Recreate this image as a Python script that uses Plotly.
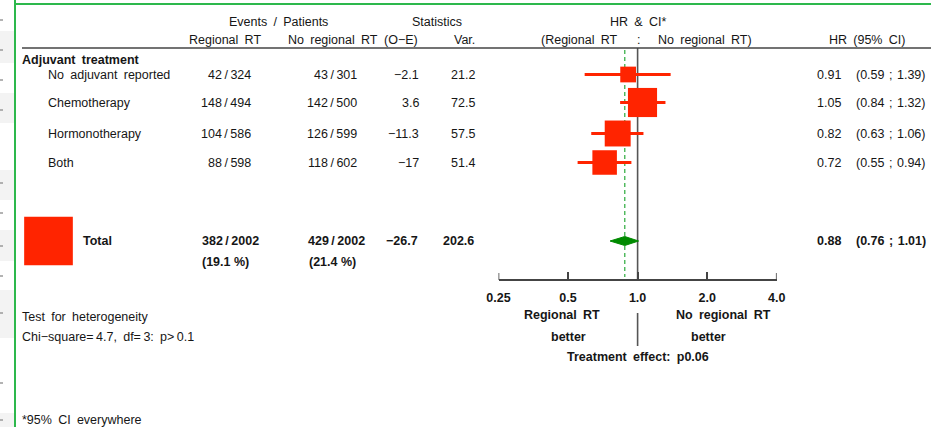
import math
import plotly.graph_objects as go

# ---------------- data ----------------
subgroups = ["No adjuvant reported", "Chemotherapy", "Hormonotherapy", "Both"]
reg_events = [42, 148, 104, 88]
reg_patients = [324, 494, 586, 598]
noreg_events = [43, 142, 126, 118]
noreg_patients = [301, 500, 599, 602]
o_minus_e = [-2.1, 3.6, -11.3, -17]
variance = [21.2, 72.5, 57.5, 51.4]
hr = [0.91, 1.05, 0.82, 0.72]
hr_lo = [0.59, 0.84, 0.63, 0.55]
hr_hi = [1.39, 1.32, 1.06, 0.94]

total_reg_events, total_reg_patients = 382, 2002
total_noreg_events, total_noreg_patients = 429, 2002
total_reg_pct, total_noreg_pct = 19.1, 21.4
total_o_minus_e = -26.7
total_variance = 202.6
total_hr, total_lo, total_hi = 0.88, 0.76, 1.01

tick_vals = [0.25, 0.5, 1.0, 2.0, 4.0]
tick_text = ["0.25", "0.5", "1.0", "2.0", "4.0"]

# ---------------- layout helpers ----------------
W, H = 931, 427
row_y = [74.5, 102.5, 133.5, 162.5]
total_y = 241
axis_y = 280
header_line_y = 48
RED = "#FF2400"
GREEN = "#008A00"
GREY = "#555555"
FONT = "Liberation Sans, Arial, sans-serif"
TXT = "#161616"
FS = 12.5
size_k = 3.42
SP = "\u2002"   # wide word space
TH = "\u2009"   # thin space
PAD = 2.5       # annotation inner padding compensation


def fmt(v):
    s = f"{v:g}"
    return s.replace("-", "\u2212")


def w(s):
    return s.replace(" ", SP)


fig = go.Figure()

# vertical reference lines
fig.add_trace(go.Scatter(x=[1, 1], y=[header_line_y, axis_y], mode="lines",
                         line=dict(color=GREY, width=1.6), hoverinfo="skip", showlegend=False))
fig.add_trace(go.Scatter(x=[total_hr, total_hr], y=[header_line_y + 2, axis_y - 3], mode="lines",
                         line=dict(color="#3BB04A", width=1.3, dash="4px,3px"),
                         hoverinfo="skip", showlegend=False))
fig.add_trace(go.Scatter(x=[1, 1], y=[313, 346], mode="lines",
                         line=dict(color=GREY, width=1.6), hoverinfo="skip", showlegend=False))
# end ticks of the HR axis
end_x, end_y = [], []
for t in (tick_vals[0], tick_vals[-1]):
    end_x += [t, t, None]
    end_y += [axis_y - 7, axis_y, None]
fig.add_trace(go.Scatter(x=end_x, y=end_y, mode="lines", line=dict(color="#444444", width=1.6),
                         hoverinfo="skip", showlegend=False, cliponaxis=False))

# CIs
for i in range(len(subgroups)):
    fig.add_trace(go.Scatter(x=[hr_lo[i], hr_hi[i]], y=[row_y[i], row_y[i]], mode="lines",
                             line=dict(color=RED, width=3), hoverinfo="skip", showlegend=False))
# squares
fig.add_trace(go.Scatter(x=hr, y=row_y, mode="markers",
                         marker=dict(symbol="square", color=RED, opacity=1,
                                     size=[size_k * math.sqrt(v) for v in variance],
                                     line=dict(width=0)),
                         hoverinfo="skip", showlegend=False))
# total diamond
dh = 4.5
fig.add_trace(go.Scatter(x=[total_lo, total_hr, total_hi, total_hr, total_lo],
                         y=[total_y, total_y - dh, total_y, total_y + dh, total_y],
                         mode="lines", fill="toself", fillcolor=GREEN,
                         line=dict(color=GREEN, width=1), hoverinfo="skip", showlegend=False))
# total square (legend-like, left table)
fig.add_trace(go.Scatter(x=[48.5], y=[total_y], xaxis="x2", yaxis="y", mode="markers",
                         marker=dict(symbol="square", color=RED, opacity=1,
                                     size=size_k * math.sqrt(total_variance), line=dict(width=0)),
                         hoverinfo="skip", showlegend=False, cliponaxis=False))

ann = []


def add(text, x, y, anchor="left", bold=False, size=FS):
    if bold:
        text = f"<b>{text}</b>"
    if anchor == "left":
        x -= PAD
    elif anchor == "right":
        x += PAD
    ann.append(dict(text=text, x=x / W, y=y, xref="paper", yref="y", xanchor=anchor, yanchor="middle",
                    showarrow=False, font=dict(family=FONT, size=size, color=TXT)))


def frac(a, b):
    return f"{a}{TH}/{TH}{b}"


def ci(lo, hi):
    return f"({lo:.2f} \u200a;\u200a {hi:.2f})"


# headers
add(w("Events / Patients"), 278, 22, "center")
add("Statistics", 437, 22, "center")
add(w("Regional RT"), 260, 40, "right")
add(w("No regional RT"), 377, 40, "right")
add("(O\u2212E)", 417, 40, "right")
add("Var.", 474, 40, "right")
add(w("HR & CI*"), 638, 22, "center")
add(w("(Regional RT"), 617, 40, "right")
add(":", 638, 40, "center")
add(w("No regional RT)"), 658, 40, "left")
add(w("HR (95% CI)"), 904.5, 40, "right")

add(w("Adjuvant treatment"), 22.5, 60, "left", bold=True)
for i, name in enumerate(subgroups):
    y = row_y[i]
    add(w(name), 48.5, y, "left")
    add(frac(reg_events[i], reg_patients[i]), 250, y, "right")
    add(frac(noreg_events[i], noreg_patients[i]), 356, y, "right")
    add(fmt(o_minus_e[i]), 418, y, "right")
    add(fmt(variance[i]), 474, y, "right")
    add(f"{hr[i]:.2f}", 817, y, "left")
    add(ci(hr_lo[i], hr_hi[i]), 925, y, "right")

add("Total", 83, total_y, "left", bold=True)
add(frac(total_reg_events, total_reg_patients), 258, total_y, "right", bold=True)
add(frac(total_noreg_events, total_noreg_patients), 364, total_y, "right", bold=True)
add(fmt(total_o_minus_e), 417, total_y, "right", bold=True)
add(fmt(total_variance), 473, total_y, "right", bold=True)
add(f"({total_reg_pct} %)", 248, 262, "right", bold=True)
add(f"({total_noreg_pct} %)", 355, 262, "right", bold=True)
add(f"{total_hr:.2f}", 817, total_y, "left", bold=True)
add(ci(total_lo, total_hi), 925, total_y, "right", bold=True)

add(w("Test for heterogeneity"), 22.5, 316.5, "left")
add("Chi\u2212square=\u20094.7,\u2002df=\u20093:\u2002p>\u20090.1", 22.5, 336.5, "left")
add(w("*95% CI everywhere"), 22.5, 420, "left")

add(w("Regional RT"), 561.5, 315, "center", bold=True)
add("better", 568.5, 336.5, "center", bold=True)
add(w("No regional RT"), 723.5, 315, "center", bold=True)
add("better", 708, 336.5, "center", bold=True)
add(w("Treatment effect: p0.06"), 638, 357, "center", bold=True)

shapes = [
    # left page strip bands
    *[dict(type="rect", xref="paper", yref="paper", x0=0, x1=14 / W,
           y0=1 - b / H, y1=1 - a / H, fillcolor="#F3F3F3", line=dict(width=0), layer="below")
      for a, b in [(31, 63), (93, 123), (170, 200), (230, 261), (290, 338), (413, 427)]],
    *[dict(type="line", xref="paper", yref="paper", x0=0, x1=3 / W,
           y0=1 - t / H, y1=1 - t / H, line=dict(color="#9A9A9A", width=1.5))
      for t in [20, 50, 80, 110, 183, 213, 246, 276, 313, 383, 420]],
    # green frame
    dict(type="line", xref="paper", yref="paper", x0=15 / W, x1=15 / W, y0=0, y1=1,
         line=dict(color="#2DB84C", width=2)),
    dict(type="line", xref="paper", yref="paper", x0=15 / W, x1=1, y0=1 - 4 / H, y1=1 - 4 / H,
         line=dict(color="#2DB84C", width=2)),
    # header rule
    dict(type="line", xref="paper", yref="y", x0=22 / W, x1=1, y0=header_line_y, y1=header_line_y,
         line=dict(color="#444444", width=1.5)),
]

x0_px, x1_px = 498.5, 776.7
fig.update_layout(
    width=W, height=H,
    margin=dict(l=0, r=0, t=0, b=0, pad=0, autoexpand=False),
    paper_bgcolor="white", plot_bgcolor="rgba(0,0,0,0)",
    showlegend=False,
    annotations=ann,
    shapes=shapes,
    xaxis=dict(type="log", domain=[x0_px / W, x1_px / W],
               range=[math.log10(0.25), math.log10(4)],
               anchor="free", position=1 - axis_y / H,
               showgrid=False, zeroline=False,
               showline=True, linecolor="#444444", linewidth=1.6,
               ticks="inside", ticklen=7, tickwidth=1.6, tickcolor="#444444",
               tickvals=tick_vals, ticktext=tick_text,
               tickfont=dict(family=FONT, size=FS, color=TXT, weight="bold"),
               ticklabelstandoff=6, fixedrange=True, automargin=False),
    xaxis2=dict(range=[0, W], domain=[0, 1], anchor="y", visible=False,
                fixedrange=True),
    yaxis=dict(range=[H, 0], domain=[0, 1], visible=False, fixedrange=True),
)

fig.write_html("out.html")
